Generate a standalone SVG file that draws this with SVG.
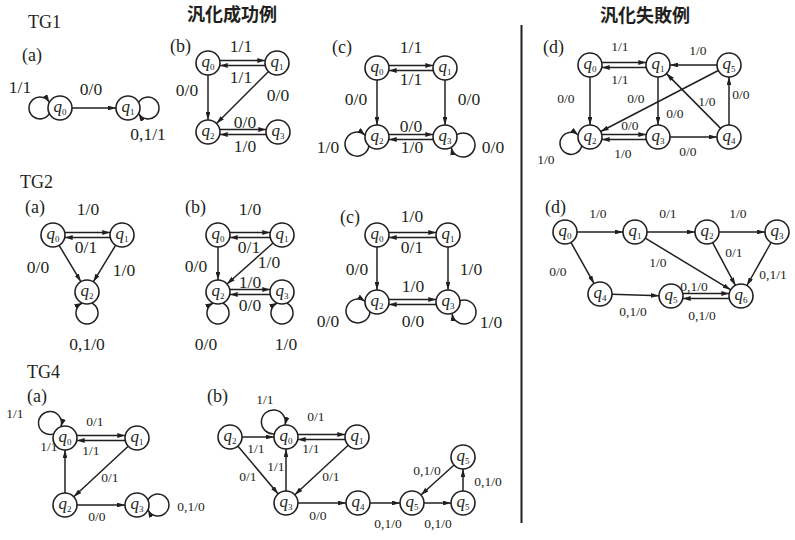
<svg xmlns="http://www.w3.org/2000/svg" width="795" height="540" viewBox="0 0 795 540">
<style>
.bg{fill:#fff}
.n circle{fill:#fff;stroke:#231f20;stroke-width:1.6}
.e path{stroke:#231f20;stroke-width:1.5;fill:none;marker-end:url(#a)}
text{font-family:"Liberation Serif","Times New Roman",serif;fill:#231f20}
.q{font-size:17px;font-style:italic;text-anchor:middle}
.q tspan{font-size:9px;font-style:normal}
.l{font-size:17.5px;text-anchor:middle}
.m{font-size:13.5px;text-anchor:middle}
.t{font-size:18px}
.h{font-family:"Noto Sans CJK JP","Noto Sans CJK SC",sans-serif;font-size:18px;font-weight:700;text-anchor:middle}
.sep{stroke:#231f20;stroke-width:2}
</style>
<defs>
<marker id="a" viewBox="0 0 10 6" refX="10" refY="3" markerWidth="8" markerHeight="4.8" markerUnits="userSpaceOnUse" orient="auto"><path d="M0,0 L10,3 L0,6 z" fill="#231f20"/></marker>
</defs>
<rect class="bg" x="0" y="0" width="795" height="540"/>

<g id="headings">
<text class="h" x="232" y="21">汎化成功例</text>
<text class="h" x="645" y="22">汎化失敗例</text>
<text class="t" x="28" y="28">TG1</text>
<text class="t" x="20" y="188">TG2</text>
<text class="t" x="27" y="378">TG4</text>
<text class="t" x="22" y="61">(a)</text>
<text class="t" x="170" y="52">(b)</text>
<text class="t" x="332" y="53">(c)</text>
<text class="t" x="543" y="53">(d)</text>
<text class="t" x="25" y="213">(a)</text>
<text class="t" x="185" y="213">(b)</text>
<text class="t" x="340" y="223">(c)</text>
<text class="t" x="545" y="213">(d)</text>
<text class="t" x="27" y="402">(a)</text>
<text class="t" x="207" y="402">(b)</text>
</g>

<line class="sep" x1="521.5" y1="25" x2="521.5" y2="523"/>

<g id="connectors" class="e">
<!-- TG1 a -->
<path d="M49.4,113.7 A11,11 0 1,1 49.4,102.3"/>
<path d="M72,108 L116,108"/>
<path d="M138.6,102.3 A11,11 0 1,1 138.6,113.7"/>
<!-- TG1 b -->
<path d="M219.7,60.5 L265.3,60.5"/>
<path d="M265.3,65.5 L219.7,65.5"/>
<path d="M208,75 L208,120"/>
<path d="M268.5,71.5 L216.5,123.5"/>
<path d="M219.7,129.5 L266.3,129.5"/>
<path d="M266.3,134.5 L219.7,134.5"/>
<!-- TG1 c -->
<path d="M388.7,65.5 L433.3,65.5"/>
<path d="M433.3,70.5 L388.7,70.5"/>
<path d="M377,80 L377,125"/>
<path d="M445,80 L445,125"/>
<path d="M388.7,134.5 L433.3,134.5"/>
<path d="M433.3,139.5 L388.7,139.5"/>
<path d="M368.9,145.8 A12,12 0 1,1 365.1,135.2"/>
<path d="M456.8,134.7 A12,12 0 1,1 451.2,147.3"/>
<!-- d top -->
<path d="M601.7,62.5 L646.3,62.5"/>
<path d="M646.3,67.5 L601.7,67.5"/>
<path d="M717,65 L670,65"/>
<path d="M590,77 L590,125"/>
<path d="M658,77 L658,125"/>
<path d="M718.3,70.5 L600.7,131.5"/>
<path d="M720.6,128.4 L666.4,73.6"/>
<path d="M729,125 L729,77"/>
<path d="M601.7,134.5 L646.3,134.5"/>
<path d="M646.3,139.5 L601.7,139.5"/>
<path d="M670,137 L717,137"/>
<path d="M581.75,145.74 A11,11 0 1,1 578.15,134.96"/>
<!-- TG2 a -->
<path d="M64.7,232.5 L110.3,232.5"/>
<path d="M110.3,237.5 L64.7,237.5"/>
<path d="M59.1,245.3 L80.9,281.7"/>
<path d="M115.7,245.2 L93.3,281.8"/>
<path d="M91.7,303 A11,11 0 1,1 82.3,303"/>
<!-- TG2 b -->
<path d="M229.7,232.5 L270.3,232.5"/>
<path d="M270.3,237.5 L229.7,237.5"/>
<path d="M218,247 L218,280"/>
<path d="M273,243 L227,284"/>
<path d="M229.7,289.5 L270.3,289.5"/>
<path d="M270.3,294.5 L229.7,294.5"/>
<path d="M222.7,303 A11,11 0 1,1 213.3,303"/>
<path d="M286.7,303 A11,11 0 1,1 277.3,303"/>
<!-- TG2 c -->
<path d="M388.7,232.5 L436.3,232.5"/>
<path d="M436.3,237.5 L388.7,237.5"/>
<path d="M377,247 L377,290"/>
<path d="M448,247 L448,290"/>
<path d="M388.7,299.5 L436.3,299.5"/>
<path d="M436.3,304.5 L388.7,304.5"/>
<path d="M370,311.8 A12,12 0 1,1 365,301.2"/>
<path d="M459.9,300.7 A12,12 0 1,1 452.1,313.3"/>
<!-- d bottom -->
<path d="M577,232 L623,232"/>
<path d="M647,232 L695,232"/>
<path d="M719,232 L765,232"/>
<path d="M570.9,242.4 L594.1,283.6"/>
<path d="M645.3,238.2 L730.7,289.8"/>
<path d="M712.6,242.6 L735.4,285.4"/>
<path d="M771.1,242.5 L746.9,285.5"/>
<path d="M612,294.3 L659,295.7"/>
<path d="M682.7,293.5 L729.3,293.5"/>
<path d="M729.3,298.5 L682.7,298.5"/>
<!-- TG4 a -->
<path d="M53.7,433.9 A11.5,11.5 0 1,1 60.9,426.7"/>
<path d="M76.7,435.5 L125.3,435.5"/>
<path d="M125.3,440.5 L76.7,440.5"/>
<path d="M65,493 L65,450"/>
<path d="M128.2,446.2 L73.8,496.8"/>
<path d="M77,505 L125,505"/>
<path d="M148,500.3 A11,11 0 1,1 148,509.7"/>
<!-- TG4 b -->
<path d="M274.4,433.9 A12,12 0 1,1 285,425"/>
<path d="M242,437 L274,437"/>
<path d="M297.7,434.5 L345.3,434.5"/>
<path d="M345.3,439.5 L297.7,439.5"/>
<path d="M237.8,446.1 L278.2,493.9"/>
<path d="M286,491 L286,449"/>
<path d="M348.2,445.2 L294.8,494.8"/>
<path d="M298,503 L346,503"/>
<path d="M370,503 L400,503"/>
<path d="M424,503 L451,503"/>
<path d="M463,491 L463,469"/>
<path d="M454.1,465 L420.9,495"/>
</g>

<!-- nodes -->
<g id="tg1a-q0" class="n"><circle cx="60" cy="108" r="12"/><text class="q" x="60" y="112">q<tspan dy="3">0</tspan></text></g>
<g id="tg1a-q1" class="n"><circle cx="128" cy="108" r="12"/><text class="q" x="128" y="112">q<tspan dy="3">1</tspan></text></g>

<g id="tg1b-q0" class="n"><circle cx="208" cy="63" r="12"/><text class="q" x="208" y="67">q<tspan dy="3">0</tspan></text></g>
<g id="tg1b-q1" class="n"><circle cx="277" cy="63" r="12"/><text class="q" x="277" y="67">q<tspan dy="3">1</tspan></text></g>
<g id="tg1b-q2" class="n"><circle cx="208" cy="132" r="12"/><text class="q" x="208" y="136">q<tspan dy="3">2</tspan></text></g>
<g id="tg1b-q3" class="n"><circle cx="278" cy="132" r="12"/><text class="q" x="278" y="136">q<tspan dy="3">3</tspan></text></g>

<g id="tg1c-q0" class="n"><circle cx="377" cy="68" r="12"/><text class="q" x="377" y="72">q<tspan dy="3">0</tspan></text></g>
<g id="tg1c-q1" class="n"><circle cx="445" cy="68" r="12"/><text class="q" x="445" y="72">q<tspan dy="3">1</tspan></text></g>
<g id="tg1c-q2" class="n"><circle cx="377" cy="137" r="12"/><text class="q" x="377" y="141">q<tspan dy="3">2</tspan></text></g>
<g id="tg1c-q3" class="n"><circle cx="445" cy="137" r="12"/><text class="q" x="445" y="141">q<tspan dy="3">3</tspan></text></g>

<g id="d1-q0" class="n"><circle cx="590" cy="65" r="12"/><text class="q" x="590" y="69">q<tspan dy="3">0</tspan></text></g>
<g id="d1-q1" class="n"><circle cx="658" cy="65" r="12"/><text class="q" x="658" y="69">q<tspan dy="3">1</tspan></text></g>
<g id="d1-q5" class="n"><circle cx="729" cy="65" r="12"/><text class="q" x="729" y="69">q<tspan dy="3">5</tspan></text></g>
<g id="d1-q2" class="n"><circle cx="590" cy="137" r="12"/><text class="q" x="590" y="141">q<tspan dy="3">2</tspan></text></g>
<g id="d1-q3" class="n"><circle cx="658" cy="137" r="12"/><text class="q" x="658" y="141">q<tspan dy="3">3</tspan></text></g>
<g id="d1-q4" class="n"><circle cx="729" cy="137" r="12"/><text class="q" x="729" y="141">q<tspan dy="3">4</tspan></text></g>

<g id="tg2a-q0" class="n"><circle cx="53" cy="235" r="12"/><text class="q" x="53" y="239">q<tspan dy="3">0</tspan></text></g>
<g id="tg2a-q1" class="n"><circle cx="122" cy="235" r="12"/><text class="q" x="122" y="239">q<tspan dy="3">1</tspan></text></g>
<g id="tg2a-q2" class="n"><circle cx="87" cy="292" r="12"/><text class="q" x="87" y="296">q<tspan dy="3">2</tspan></text></g>

<g id="tg2b-q0" class="n"><circle cx="218" cy="235" r="12"/><text class="q" x="218" y="239">q<tspan dy="3">0</tspan></text></g>
<g id="tg2b-q1" class="n"><circle cx="282" cy="235" r="12"/><text class="q" x="282" y="239">q<tspan dy="3">1</tspan></text></g>
<g id="tg2b-q2" class="n"><circle cx="218" cy="292" r="12"/><text class="q" x="218" y="296">q<tspan dy="3">2</tspan></text></g>
<g id="tg2b-q3" class="n"><circle cx="282" cy="292" r="12"/><text class="q" x="282" y="296">q<tspan dy="3">3</tspan></text></g>

<g id="tg2c-q0" class="n"><circle cx="377" cy="235" r="12"/><text class="q" x="377" y="239">q<tspan dy="3">0</tspan></text></g>
<g id="tg2c-q1" class="n"><circle cx="448" cy="235" r="12"/><text class="q" x="448" y="239">q<tspan dy="3">1</tspan></text></g>
<g id="tg2c-q2" class="n"><circle cx="377" cy="302" r="12"/><text class="q" x="377" y="306">q<tspan dy="3">2</tspan></text></g>
<g id="tg2c-q3" class="n"><circle cx="448" cy="302" r="12"/><text class="q" x="448" y="306">q<tspan dy="3">3</tspan></text></g>

<g id="d2-q0" class="n"><circle cx="565" cy="232" r="12"/><text class="q" x="565" y="236">q<tspan dy="3">0</tspan></text></g>
<g id="d2-q1" class="n"><circle cx="635" cy="232" r="12"/><text class="q" x="635" y="236">q<tspan dy="3">1</tspan></text></g>
<g id="d2-q2" class="n"><circle cx="707" cy="232" r="12"/><text class="q" x="707" y="236">q<tspan dy="3">2</tspan></text></g>
<g id="d2-q3" class="n"><circle cx="777" cy="232" r="12"/><text class="q" x="777" y="236">q<tspan dy="3">3</tspan></text></g>
<g id="d2-q4" class="n"><circle cx="600" cy="294" r="12"/><text class="q" x="600" y="298">q<tspan dy="3">4</tspan></text></g>
<g id="d2-q5" class="n"><circle cx="671" cy="296" r="12"/><text class="q" x="671" y="300">q<tspan dy="3">5</tspan></text></g>
<g id="d2-q6" class="n"><circle cx="741" cy="296" r="12"/><text class="q" x="741" y="300">q<tspan dy="3">6</tspan></text></g>

<g id="tg4a-q0" class="n"><circle cx="65" cy="438" r="12"/><text class="q" x="65" y="442">q<tspan dy="3">0</tspan></text></g>
<g id="tg4a-q1" class="n"><circle cx="137" cy="438" r="12"/><text class="q" x="137" y="442">q<tspan dy="3">1</tspan></text></g>
<g id="tg4a-q2" class="n"><circle cx="65" cy="505" r="12"/><text class="q" x="65" y="509">q<tspan dy="3">2</tspan></text></g>
<g id="tg4a-q3" class="n"><circle cx="137" cy="505" r="12"/><text class="q" x="137" y="509">q<tspan dy="3">3</tspan></text></g>

<g id="tg4b-q2" class="n"><circle cx="230" cy="437" r="12"/><text class="q" x="230" y="441">q<tspan dy="3">2</tspan></text></g>
<g id="tg4b-q0" class="n"><circle cx="286" cy="437" r="12"/><text class="q" x="286" y="441">q<tspan dy="3">0</tspan></text></g>
<g id="tg4b-q1" class="n"><circle cx="357" cy="437" r="12"/><text class="q" x="357" y="441">q<tspan dy="3">1</tspan></text></g>
<g id="tg4b-q3" class="n"><circle cx="286" cy="503" r="12"/><text class="q" x="286" y="507">q<tspan dy="3">3</tspan></text></g>
<g id="tg4b-q4" class="n"><circle cx="358" cy="503" r="12"/><text class="q" x="358" y="507">q<tspan dy="3">4</tspan></text></g>
<g id="tg4b-q5a" class="n"><circle cx="412" cy="503" r="12"/><text class="q" x="412" y="507">q<tspan dy="3">5</tspan></text></g>
<g id="tg4b-q5b" class="n"><circle cx="463" cy="503" r="12"/><text class="q" x="463" y="507">q<tspan dy="3">5</tspan></text></g>
<g id="tg4b-q5c" class="n"><circle cx="463" cy="457" r="12"/><text class="q" x="463" y="461">q<tspan dy="3">5</tspan></text></g>

<g id="labels">
<!-- TG1 a -->
<text class="l" x="20" y="93">1/1</text>
<text class="l" x="91" y="95">0/0</text>
<text class="l" x="148" y="140">0,1/1</text>
<!-- TG1 b -->
<text class="l" x="241" y="52">1/1</text>
<text class="l" x="241" y="83">1/1</text>
<text class="l" x="187" y="96">0/0</text>
<text class="l" x="278" y="101">0/0</text>
<text class="l" x="245" y="128">0/0</text>
<text class="l" x="245" y="152">1/0</text>
<!-- TG1 c -->
<text class="l" x="411" y="53">1/1</text>
<text class="l" x="411" y="85">1/1</text>
<text class="l" x="356" y="105">0/0</text>
<text class="l" x="469" y="105">0/0</text>
<text class="l" x="411" y="132">0/0</text>
<text class="l" x="412" y="153">1/0</text>
<text class="l" x="328" y="153">1/0</text>
<text class="l" x="493" y="153">0/0</text>
<!-- d top -->
<g class="m">
<text x="620" y="51">1/1</text>
<text x="620" y="84">1/1</text>
<text x="698" y="55">1/0</text>
<text x="566" y="103">0/0</text>
<text x="636" y="103">0/0</text>
<text x="675" y="118">0/0</text>
<text x="707" y="106">1/0</text>
<text x="741" y="99">0/0</text>
<text x="630" y="130">0/0</text>
<text x="623" y="158">1/0</text>
<text x="688" y="156">0/0</text>
<text x="546" y="164">1/0</text>
</g>
<!-- TG2 a -->
<text class="l" x="88" y="215">1/0</text>
<text class="l" x="86" y="253">0/1</text>
<text class="l" x="38" y="273">0/0</text>
<text class="l" x="124" y="276">1/0</text>
<text class="l" x="87" y="350">0,1/0</text>
<!-- TG2 b -->
<text class="l" x="250" y="215">1/0</text>
<text class="l" x="249" y="253">0/1</text>
<text class="l" x="269" y="268">1/0</text>
<text class="l" x="196" y="272">0/0</text>
<text class="l" x="250" y="288">1/0</text>
<text class="l" x="250" y="311">0/0</text>
<text class="l" x="206" y="350">0/0</text>
<text class="l" x="286" y="350">1/0</text>
<!-- TG2 c -->
<text class="l" x="412" y="222">1/0</text>
<text class="l" x="412" y="253">0/1</text>
<text class="l" x="357" y="275">0/0</text>
<text class="l" x="471" y="275">1/0</text>
<text class="l" x="413" y="292">1/0</text>
<text class="l" x="413" y="327">0/0</text>
<text class="l" x="328" y="327">0/0</text>
<text class="l" x="491" y="328">1/0</text>
<!-- d bottom -->
<g class="m">
<text x="598" y="218">1/0</text>
<text x="668" y="218">0/1</text>
<text x="738" y="218">1/0</text>
<text x="734" y="257">0/1</text>
<text x="658" y="267">1/0</text>
<text x="558" y="276">0/0</text>
<text x="773" y="279">0,1/1</text>
<text x="694" y="291">0,1/0</text>
<text x="633" y="316">0,1/0</text>
<text x="702" y="320">0,1/0</text>
</g>
<!-- TG4 a -->
<g class="m">
<text x="15" y="418">1/1</text>
<text x="95" y="426">0/1</text>
<text x="91" y="455">1/1</text>
<text x="49" y="451">1/1</text>
<text x="110" y="482">0/1</text>
<text x="97" y="521">0/0</text>
<text x="191" y="511">0,1/0</text>
</g>
<!-- TG4 b -->
<g class="m">
<text x="265" y="404">1/1</text>
<text x="316" y="421">0/1</text>
<text x="256" y="453">1/1</text>
<text x="311" y="453">1/1</text>
<text x="276" y="471">1/1</text>
<text x="248" y="481">0/1</text>
<text x="331" y="481">0/1</text>
<text x="318" y="520">0/0</text>
<text x="388" y="528">0,1/0</text>
<text x="438" y="528">0,1/0</text>
<text x="427" y="475">0,1/0</text>
<text x="488" y="486">0,1/0</text>
</g>
</g>
</svg>
